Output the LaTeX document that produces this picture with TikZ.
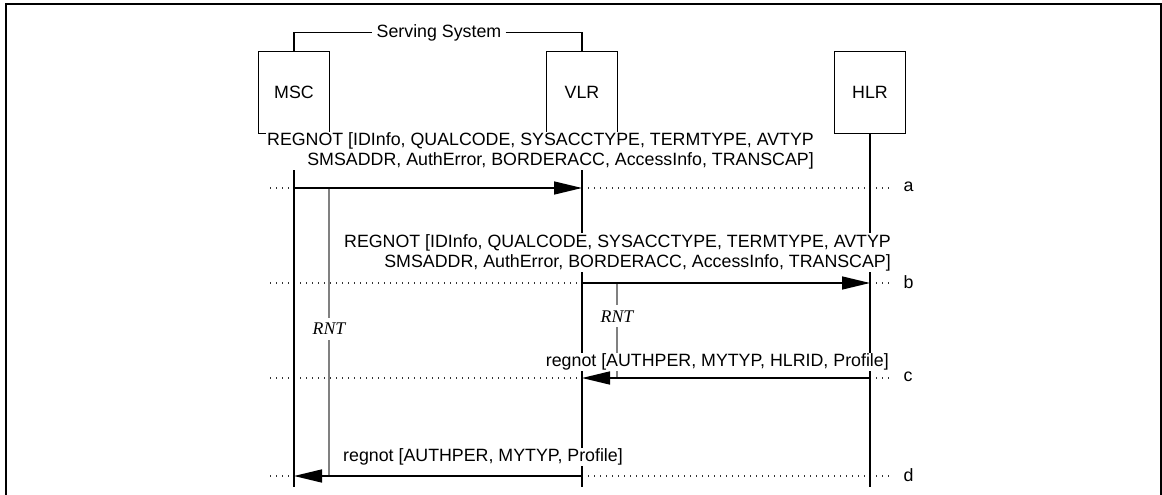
\documentclass[tikz,border=0pt]{standalone}
\usepackage{fontspec}
\setmainfont{Liberation Sans}
\newfontfamily\rntfont{Liberation Serif}
\usetikzlibrary{arrows.meta}
\begin{document}
\begin{tikzpicture}[x=1pt,y=-1pt,font=\fontsize{17.8}{20}\selectfont,
  entity/.style={draw,line width=1.6pt,minimum width=71pt,minimum height=82pt,inner sep=0pt},
  life/.style={line width=1.6pt},
  msg/.style={line width=1.6pt,-{Triangle[length=28pt,width=13pt]}},
  timer/.style={line width=1.6pt,black!50},
  guide/.style={line width=1.2pt,black!80,dash pattern=on 1.2pt off 4.8pt},
  msgtext/.style={fill=white,inner sep=1pt},
  timerlabel/.style={fill=white,text=black,inner xsep=1pt,inner ysep=5pt,font=\rntfont\itshape\fontsize{17.8}{18}\selectfont}]
\useasboundingbox (0,0) rectangle (1162,495);
\draw[line width=2pt] (5.7,495) -- (5.7,4) -- (1161,4) -- (1161,495);
\node[entity] (msc) at (294,92.5) {MSC};
\node[entity] (vlr) at (582,92.5) {VLR};
\node[entity] (hlr) at (870,92.5) {HLR};
\node[inner xsep=4pt] (sys) at (439,32.5) {Serving System};
\draw[line width=1.3pt] (msc.north) |- (sys.west);
\draw[line width=1.3pt] (sys.east) -| (vlr.north);
\foreach \r/\y in {a/188,b/283,c/378,d/476} {
  \coordinate (row-\r) at (270,\y);
  \draw[guide] (row-\r) -- ++(622,0) node[right=11pt,inner sep=0pt,yshift=1pt,text=black] (lbl-\r) {\r};
  \foreach \e in {msc,vlr,hlr}
    \coordinate (\e-\r) at (\e |- row-\r);
}
\foreach \e in {msc,vlr,hlr}
  \draw[life] (\e.south) -- ++(0,353) coordinate (\e-end);
\draw[timer] ([xshift=35]msc-a) -- node[timerlabel,pos=0.49] (rnt-1) {RNT} ([xshift=35]msc-d);
\draw[timer] ([xshift=35]vlr-b) -- node[timerlabel,pos=0.35] (rnt-2) {RNT} ([xshift=35]vlr-c);
\draw[msg] (msc-a) -- (vlr-a);
\draw[msg] (vlr-b) -- (hlr-b);
\draw[msg] (hlr-c) -- (vlr-c);
\draw[msg] (vlr-d) -- (msc-d);
\node[msgtext,align=right,anchor=east] (txt-a) at (815,151) {REGNOT [IDInfo, QUALCODE, SYSACCTYPE, TERMTYPE, AVTYP\\SMSADDR, AuthError, BORDERACC, AccessInfo, TRANSCAP]};
\node[msgtext,align=right,anchor=east] (txt-b) at (892,252.5) {REGNOT [IDInfo, QUALCODE, SYSACCTYPE, TERMTYPE, AVTYP\\SMSADDR, AuthError, BORDERACC, AccessInfo, TRANSCAP]};
\node[msgtext,anchor=east] (txt-c) at (890,362) {regnot [AUTHPER, MYTYP, HLRID, Profile]};
\node[msgtext] (txt-d) at (483,457) {regnot [AUTHPER, MYTYP, Profile]};
\end{tikzpicture}
\end{document}
